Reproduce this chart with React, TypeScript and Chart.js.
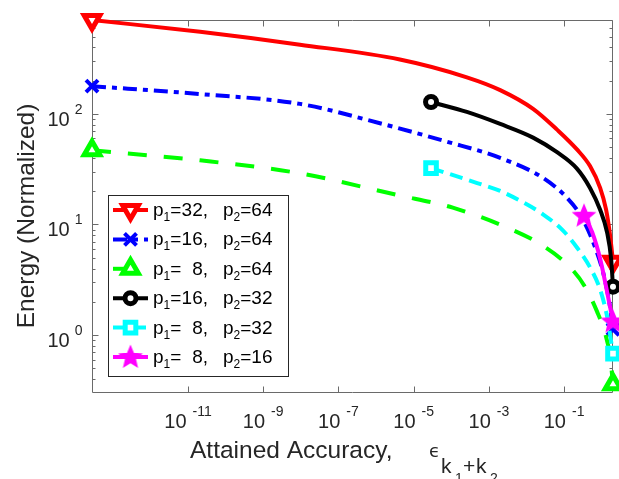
import React, { useEffect, useRef } from 'react';
import { Chart, registerables } from 'chart.js';

Chart.register(...registerables);

// ---------- data ----------
const X_MIN = 2.8e-14;
const X_MAX = 2.0;
const Y_MIN = 0.33;
const Y_MAX = 705;

const xTickExps = [-11, -9, -7, -5, -3, -1];
const yTickExps = [0, 1, 2];

const p1Labels = ['32', '16', '8', '16', '8', '8'];
const p2Labels = ['64', '64', '64', '32', '32', '16'];

const redX = [2.8e-14, 2.1e-11, 9.5e-9, 4.3e-6, 2.6e-4, 2.0e-3, 0.015, 0.065, 0.22, 0.49, 0.91, 1.31, 1.67, 2.0];
const redY = [705, 551, 422, 310, 214, 164, 111, 72, 47.7, 33.7, 21.4, 13.6, 8.0, 4.6];

const blueX = [2.8e-14, 2.1e-11, 9.5e-9, 1.5e-6, 7.7e-5, 2.0e-3, 0.028, 0.12, 0.3, 0.67, 1.16, 1.67, 2.0];
const blueY = [178, 151, 123, 81, 56, 40, 26.3, 17.4, 11.5, 6.2, 3.4, 1.8, 1.13];

const greenX = [2.8e-14, 2.1e-11, 9.5e-9, 3.6e-6, 1.1e-4, 3.0e-3, 0.026, 0.145, 0.36, 0.75, 1.23, 1.67, 2.0];
const greenY = [46.8, 38, 29, 18.5, 14.2, 9.4, 6.5, 4.1, 2.74, 1.64, 1.04, 0.65, 0.36];

const blackX = [2.9e-5, 2.6e-4, 2.0e-3, 0.015, 0.065, 0.22, 0.49, 0.91, 1.39, 1.78, 2.0];
const blackY = [128, 104, 81, 61, 45, 32, 21.4, 13.6, 8.5, 4.9, 2.74];

const cyanX = [2.9e-5, 7.7e-5, 4.9e-4, 2.0e-3, 6.8e-3, 0.028, 0.094, 0.22, 0.49, 0.91, 1.39, 2.0];
const cyanY = [32.3, 29.1, 23.7, 20.1, 16.4, 12.3, 8.8, 6.2, 4.1, 2.58, 1.48, 0.68];

const magentaX = [0.34, 0.56, 0.91, 1.31, 1.67, 2.0];
const magentaY = [12.0, 8.5, 4.9, 2.74, 1.8, 1.33];

// ---------- styling ----------
const FONT = '"Liberation Sans", Arial, Helvetica, sans-serif';
const AXIS_COLOR = '#6a6a6a';
const TEXT_COLOR = '#262626';

type Marker = 'triDown' | 'cross' | 'triUp' | 'circle' | 'square' | 'star';

interface SeriesDef {
  xs: number[];
  ys: number[];
  color: string;
  dash: number[];
  marker: Marker;
}

const SERIES: SeriesDef[] = [
  { xs: redX, ys: redY, color: '#ff0000', dash: [], marker: 'triDown' },
  { xs: blueX, ys: blueY, color: '#0000ff', dash: [14, 6, 5, 6], marker: 'cross' },
  { xs: greenX, ys: greenY, color: '#00ff00', dash: [19, 17], marker: 'triUp' },
  { xs: blackX, ys: blackY, color: '#000000', dash: [], marker: 'circle' },
  { xs: cyanX, ys: cyanY, color: '#00ffff', dash: [13, 7], marker: 'square' },
  { xs: magentaX, ys: magentaY, color: '#ff00ff', dash: [], marker: 'star' },
];

function makeStar(size: number, color: string): HTMLCanvasElement {
  const c = document.createElement('canvas');
  c.width = size;
  c.height = size;
  const g = c.getContext('2d')!;
  const cx = size / 2;
  const cy = size / 2 + 0.5;
  const R = size / 2 - 2;
  const r = R * 0.45;
  g.beginPath();
  for (let i = 0; i < 10; i++) {
    const ang = -Math.PI / 2 + (i * Math.PI) / 5;
    const rad = i % 2 ? r : R;
    g.lineTo(cx + rad * Math.cos(ang), cy + rad * Math.sin(ang));
  }
  g.closePath();
  g.fillStyle = color;
  g.fill();
  g.lineWidth = 1.5;
  g.strokeStyle = color;
  g.lineJoin = 'miter';
  g.stroke();
  return c;
}

function markerProps(m: Marker, star: HTMLCanvasElement) {
  switch (m) {
    case 'triDown':
      return { style: 'triangle', radius: 9, rotation: 180, bw: 5 };
    case 'triUp':
      return { style: 'triangle', radius: 9, rotation: 0, bw: 5 };
    case 'cross':
      return { style: 'crossRot', radius: 8.5, rotation: 0, bw: 4 };
    case 'circle':
      return { style: 'circle', radius: 5.5, rotation: 0, bw: 5 };
    case 'square':
      return { style: 'rect', radius: 7.5, rotation: 0, bw: 5 };
    default:
      return { style: star as any, radius: 12, rotation: 0, bw: 1 };
  }
}

function drawLegendMarker(ctx: CanvasRenderingContext2D, m: Marker, x: number, y: number, color: string, star: HTMLCanvasElement) {
  ctx.save();
  ctx.setLineDash([]);
  ctx.strokeStyle = color;
  ctx.fillStyle = '#ffffff';
  ctx.lineJoin = 'miter';
  const p = markerProps(m, star);
  ctx.lineWidth = p.bw;
  ctx.beginPath();
  if (m === 'triDown' || m === 'triUp') {
    const rot = (p.rotation * Math.PI) / 180;
    for (let k = 0; k < 3; k++) {
      const a = rot + (k * 2 * Math.PI) / 3;
      ctx.lineTo(x + Math.sin(a) * p.radius, y - Math.cos(a) * p.radius);
    }
    ctx.closePath();
    ctx.fill();
    ctx.stroke();
  } else if (m === 'cross') {
    const d = p.radius * Math.SQRT1_2;
    ctx.moveTo(x - d, y - d);
    ctx.lineTo(x + d, y + d);
    ctx.moveTo(x + d, y - d);
    ctx.lineTo(x - d, y + d);
    ctx.stroke();
  } else if (m === 'circle') {
    ctx.arc(x, y, p.radius, 0, Math.PI * 2);
    ctx.fill();
    ctx.stroke();
  } else if (m === 'square') {
    const s = p.radius * Math.SQRT1_2;
    ctx.rect(x - s, y - s, 2 * s, 2 * s);
    ctx.fill();
    ctx.stroke();
  } else {
    ctx.drawImage(star, x - star.width / 2, y - star.height / 2);
  }
  ctx.restore();
}

function drawPow10(ctx: CanvasRenderingContext2D, exp: number, x: number, baseY: number, align: 'center' | 'right') {
  const base = '10';
  const ex = exp < 0 ? '-' + Math.abs(exp) : String(exp);
  ctx.font = `20px ${FONT}`;
  const wb = ctx.measureText(base).width;
  ctx.font = `14px ${FONT}`;
  const we = ctx.measureText(ex).width;
  const gap = align === 'center' ? 6 : 5;
  const total = wb + gap + we;
  const start = align === 'center' ? x - total / 2 : x - total;
  ctx.textAlign = 'left';
  ctx.textBaseline = 'alphabetic';
  ctx.font = `20px ${FONT}`;
  ctx.fillText(base, start, baseY);
  ctx.font = `14px ${FONT}`;
  ctx.fillText(ex, start + wb + gap, baseY - 12);
}

function makeAxesPlugin(star: HTMLCanvasElement) {
  return {
    id: 'matlabAxes',
    beforeDatasetsDraw(chart: any) {
      const { ctx, chartArea: a, scales } = chart;
      const xs = scales.x;
      const ys = scales.y;
      const L = Math.round(a.left) + 0.5;
      const R = Math.round(a.right) - 0.5;
      const T = Math.round(a.top) + 0.5;
      const B = Math.round(a.bottom) - 0.5;
      ctx.save();
      ctx.strokeStyle = AXIS_COLOR;
      ctx.lineWidth = 1;
      ctx.setLineDash([]);
      ctx.beginPath();
      ctx.rect(L, T, R - L, B - T);
      for (const e of xTickExps) {
        const px = Math.round(xs.getPixelForValue(Math.pow(10, e))) + 0.5;
        ctx.moveTo(px, B);
        ctx.lineTo(px, B - 6);
        ctx.moveTo(px, T);
        ctx.lineTo(px, T + 6);
      }
      for (let d = -1; d <= 2; d++) {
        for (let m = 1; m <= 9; m++) {
          const v = m * Math.pow(10, d);
          if (v < Y_MIN || v > Y_MAX) continue;
          const py = Math.round(ys.getPixelForValue(v)) + 0.5;
          const len = m === 1 ? 6 : 3;
          ctx.moveTo(L, py);
          ctx.lineTo(L + len, py);
          ctx.moveTo(R, py);
          ctx.lineTo(R - len, py);
        }
      }
      ctx.stroke();

      ctx.fillStyle = TEXT_COLOR;
      for (const e of xTickExps) {
        const px = xs.getPixelForValue(Math.pow(10, e));
        drawPow10(ctx, e, px, B + 35, 'center');
      }
      for (const e of yTickExps) {
        const py = ys.getPixelForValue(Math.pow(10, e));
        drawPow10(ctx, e, L - 10, py + 12, 'right');
      }

      ctx.fillStyle = TEXT_COLOR;
      ctx.textAlign = 'left';
      ctx.textBaseline = 'alphabetic';
      ctx.font = `24.5px ${FONT}`;
      ctx.fillText('Attained Accuracy,', 190, 458);
      ctx.font = `18px "DejaVu Sans", ${FONT}`;
      ctx.fillText('\u03F5', 429, 457);
      ctx.font = `21px ${FONT}`;
      ctx.fillText('k', 441, 473);
      ctx.font = `14px ${FONT}`;
      ctx.fillText('1', 455, 483);
      ctx.font = `21px ${FONT}`;
      ctx.fillText('+', 463, 473);
      ctx.fillText('k', 476, 473);
      ctx.font = `14px ${FONT}`;
      ctx.fillText('2', 490, 483);

      ctx.save();
      ctx.translate(34, 216);
      ctx.rotate(-Math.PI / 2);
      ctx.textAlign = 'center';
      ctx.font = `24.5px ${FONT}`;
      ctx.fillText('Energy (Normalized)', 0, 0);
      ctx.restore();
      ctx.restore();
    },
    afterDatasetsDraw(chart: any) {
      const { ctx } = chart;
      ctx.save();
      const bx = 108.5, by = 195.5, bw = 180, bh = 181;
      ctx.fillStyle = '#ffffff';
      ctx.fillRect(bx, by, bw, bh);
      ctx.strokeStyle = '#262626';
      ctx.lineWidth = 1;
      ctx.strokeRect(bx, by, bw, bh);
      SERIES.forEach((s, i) => {
        const yc = 210 + i * 29.4;
        ctx.save();
        ctx.strokeStyle = s.color;
        ctx.lineWidth = 4;
        ctx.lineCap = 'butt';
        ctx.setLineDash(s.dash);
        ctx.beginPath();
        ctx.moveTo(113, yc);
        ctx.lineTo(148, yc);
        ctx.stroke();
        ctx.restore();
        drawLegendMarker(ctx, s.marker, 130.5, yc, s.color, star);

        ctx.fillStyle = '#000000';
        ctx.textBaseline = 'alphabetic';
        ctx.textAlign = 'left';
        let x = 153;
        ctx.font = `19px ${FONT}`;
        ctx.fillText('p', x, yc + 6);
        x += ctx.measureText('p').width;
        ctx.font = `12px ${FONT}`;
        ctx.fillText('1', x, yc + 11);
        x += ctx.measureText('1').width;
        ctx.font = `19px ${FONT}`;
        ctx.fillText('=', x, yc + 6);
        ctx.textAlign = 'right';
        ctx.fillText(p1Labels[i] + ',', 208, yc + 6);
        ctx.textAlign = 'left';
        x = 223;
        ctx.fillText('p', x, yc + 6);
        x += ctx.measureText('p').width;
        ctx.font = `12px ${FONT}`;
        ctx.fillText('2', x, yc + 11);
        x += ctx.measureText('2').width;
        ctx.font = `19px ${FONT}`;
        ctx.fillText('=' + p2Labels[i], x, yc + 6);
      });
      ctx.restore();
    },
  };
}

export default function App() {
  const ref = useRef<HTMLCanvasElement | null>(null);

  useEffect(() => {
    if (!ref.current) return;
    const star = makeStar(26, '#ff00ff');
    const datasets = SERIES.map((s, i) => {
      const n = s.xs.length;
      const p = markerProps(s.marker, star);
      const radii = s.xs.map((_, k) => (k === 0 || k === n - 1 ? p.radius : 0));
      return {
        label: 'series' + i,
        data: s.xs.map((x, k) => ({ x, y: s.ys[k] })),
        borderColor: s.color,
        borderWidth: 4,
        borderDash: s.dash,
        borderCapStyle: 'butt' as const,
        fill: false,
        cubicInterpolationMode: 'monotone' as const,
        pointStyle: p.style,
        pointRotation: p.rotation,
        pointRadius: radii,
        pointHoverRadius: radii,
        pointBorderWidth: p.bw,
        pointBorderColor: s.color,
        pointBackgroundColor: '#ffffff',
        clip: false as const,
        order: SERIES.length - i,
      };
    });

    const chart = new Chart(ref.current, {
      type: 'line',
      data: { datasets: datasets as any },
      options: {
        animation: false,
        responsive: false,
        maintainAspectRatio: false,
        events: [],
        layout: { autoPadding: false, padding: { top: 20, right: 6, left: 0, bottom: 0 } },
        plugins: { legend: { display: false }, tooltip: { enabled: false } },
        scales: {
          x: {
            type: 'logarithmic',
            min: X_MIN,
            max: X_MAX,
            ticks: { display: false },
            grid: { display: false, drawTicks: false },
            border: { display: false },
            afterFit: (s: any) => {
              s.height = 86;
            },
          },
          y: {
            type: 'logarithmic',
            min: Y_MIN,
            max: Y_MAX,
            ticks: { display: false },
            grid: { display: false, drawTicks: false },
            border: { display: false },
            afterFit: (s: any) => {
              s.width = 92;
            },
          },
        },
      } as any,
      plugins: [makeAxesPlugin(star)],
    });
    return () => chart.destroy();
  }, []);

  return (
    <div style={{ position: 'fixed', left: 0, top: 0, width: 619, height: 479, background: '#ffffff' }}>
      <canvas ref={ref} width={619} height={479} style={{ display: 'block', width: 619, height: 479 }} />
    </div>
  );
}
